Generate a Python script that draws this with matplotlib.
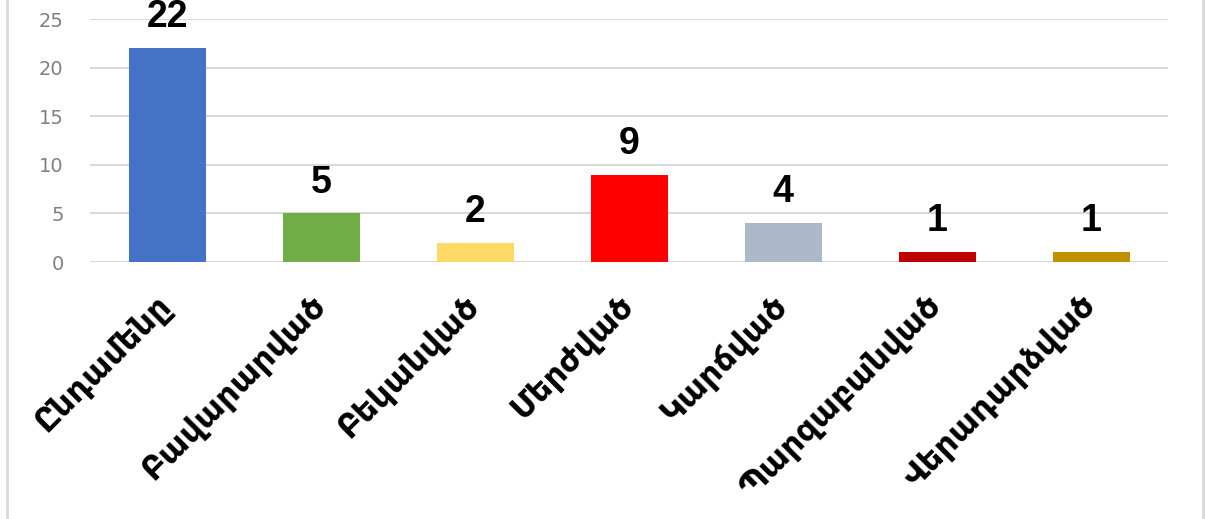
import matplotlib.pyplot as plt
from matplotlib.lines import Line2D

categories = ["Ընդամենը", "Բավարարված", "Բեկանված", "Մերժված",
              "Կարճված", "Պարզաբանված", "Վերադարձված"]
values = [22, 5, 2, 9, 4, 1, 1]
colors = ["#4472C4", "#70AD47", "#FFD966", "#FF0000",
          "#ADB9CA", "#C00000", "#BF9000"]
yticks = [0, 5, 10, 15, 20, 25]

plt.rcParams['font.family'] = ['DejaVu Sans']

fig = plt.figure(figsize=(12.06, 5.19), dpi=100)
ax = fig.add_axes([90 / 1206, 1 - 262 / 519, 1078 / 1206, 243 / 519])

x = range(len(categories))
ax.bar(x, values, width=0.5, color=colors, zorder=2)

for i, v in enumerate(values):
    ax.annotate(str(v), (i, v), xytext=(0, 15), textcoords='offset points',
                ha='center', va='baseline', fontsize=27, fontweight='bold',
                family=['Liberation Sans', 'DejaVu Sans'],
                color='black', zorder=3, annotation_clip=False)

ax.set_xlim(-0.5, len(categories) - 0.5)
ax.set_ylim(0, 25)
ax.set_yticks(yticks)
ax.grid(axis='y', color='#d9d9d9', linewidth=1.5, zorder=0)
ax.set_axisbelow(True)

for s in ax.spines.values():
    s.set_visible(False)
ax.tick_params(axis='both', length=0)
ax.tick_params(axis='y', labelsize=14, labelcolor='#808080', pad=19)

ax.set_xticks(list(x))
ax.set_xticklabels(categories, rotation=45, ha='right', va='center',
                   rotation_mode='anchor', fontsize=23, fontweight='bold')
ax.tick_params(axis='x', pad=28)

# chart frame (screenshot edges)
fig.add_artist(Line2D([7 / 1206, 7 / 1206], [0, 1], color='#d9d9d9', linewidth=2,
                      transform=fig.transFigure))
fig.add_artist(Line2D([1203 / 1206, 1203 / 1206], [0, 1], color='#d9d9d9', linewidth=2,
                      transform=fig.transFigure))

fig.savefig('out.png', dpi=100)
